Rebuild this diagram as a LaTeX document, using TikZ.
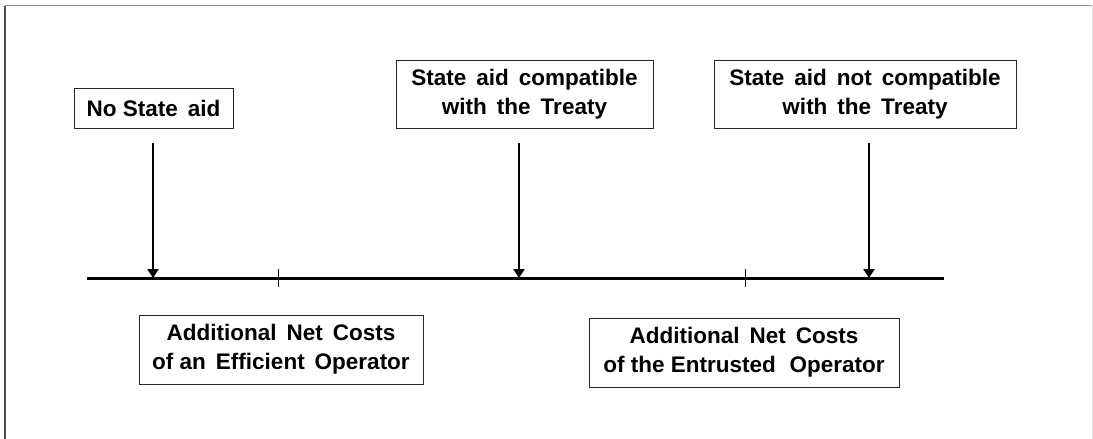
\documentclass[tikz,border=0pt]{standalone}
\usepackage{fontspec}
\setmainfont{Liberation Sans}
\usetikzlibrary{arrows.meta}
\definecolor{topgray}{gray}{0.55}
\definecolor{leftgray}{gray}{0.3}
\definecolor{rightgray}{gray}{0.88}
\tikzset{
  lbl/.style={draw=black!85, line width=1pt, fill=white, align=center, inner sep=0pt,
    font=\fontsize{22.5}{29}\selectfont\bfseries},
  axis/.style={line width=3pt},
  tickmark/.style={line width=1pt},
  pointer/.style={line width=2.5pt, -{Triangle[length=9pt,width=11pt]}}
}
\begin{document}
\begin{tikzpicture}[x=1pt,y=-1pt]
\useasboundingbox (0,0) rectangle (1093,439);
% frame
\draw[topgray, line width=1.5pt] (5,5.5) -- (1092,5.5);
\draw[leftgray, line width=1.2pt] (5,5.5) -- (5,439);
\draw[rightgray, line width=1pt] (1092,5.5) -- (1092,439);
% label boxes
\node[lbl, minimum width=159pt, minimum height=40pt] (nsa) at (153.5,108) {No State\, aid};
\node[lbl, minimum width=257pt, minimum height=68pt] (comp) at (524.5,94) {State\, aid\, compatible\\with\, the\, Treaty};
\node[lbl, minimum width=302pt, minimum height=68pt] (ncomp) at (865,94) {State\, aid\, not\, compatible\\with\, the\, Treaty};
\node[lbl, minimum width=284pt, minimum height=69pt] (eff) at (281,349.5) {Additional\, Net\, Costs\\of an\, Efficient\, Operator};
\node[lbl, minimum width=310pt, minimum height=69pt] (ent) at (744,352.5) {Additional\, Net\, Costs\\of the Entrusted\,\, Operator};
% axis
\coordinate (axL) at (87,278);
\coordinate (axR) at (944,278);
\draw[axis] (axL) -- (axR);
% ticks
\coordinate (t1a) at (278,269); \coordinate (t1b) at (278,287);
\coordinate (t2a) at (745,269); \coordinate (t2b) at (745,287);
\draw[tickmark] (t1a) -- (t1b);
\draw[tickmark] (t2a) -- (t2b);
% pointers
\coordinate (p1s) at (153,143); \coordinate (p1e) at (153,278);
\coordinate (p2s) at (519,143); \coordinate (p2e) at (519,278);
\coordinate (p3s) at (869,143); \coordinate (p3e) at (869,278);
\draw[pointer] (p1s) -- (p1e);
\draw[pointer] (p2s) -- (p2e);
\draw[pointer] (p3s) -- (p3e);
\end{tikzpicture}
\end{document}
